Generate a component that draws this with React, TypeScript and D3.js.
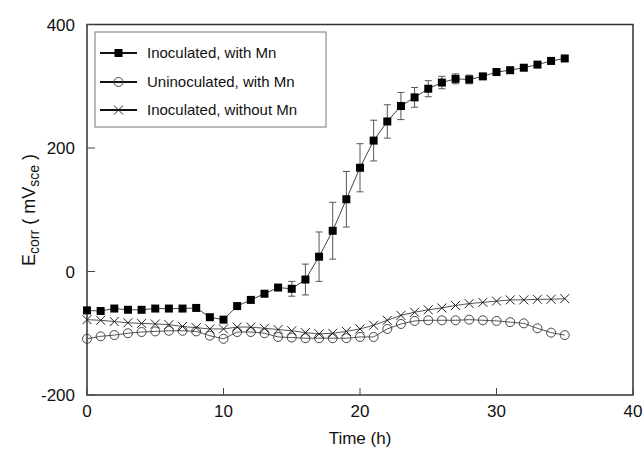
import React from "react";
import * as d3 from "d3";

const times = [0,1,2,3,4,5,6,7,8,9,10,11,12,13,14,15,16,17,18,19,20,21,22,23,24,25,26,27,28,29,30,31,32,33,34,35];
const inocMn = [-63,-64,-60,-62,-62,-60,-60,-60,-59,-74,-78,-56,-46,-36,-26,-28,-13,24,66,117,168,212,243,268,282,296,306,312,311,316,323,326,330,335,341,345];
const inocMnErr = [0,0,0,0,0,0,0,0,0,0,0,0,0,0,0,12,25,40,46,45,39,33,27,22,16,13,10,8,7,4,0,0,0,0,0,0];
const uninocMn = [-109,-105,-103,-100,-98,-97,-96,-96,-97,-104,-109,-98,-98,-100,-106,-107,-108,-108,-108,-108,-106,-106,-93,-85,-80,-79,-79,-79,-78,-79,-80,-82,-84,-92,-99,-103];
const inocNoMn = [-78,-79,-81,-83,-84,-85,-86,-89,-91,-93,-93,-90,-90,-92,-94,-96,-99,-101,-100,-97,-93,-87,-79,-71,-66,-62,-59,-55,-52,-50,-48,-46,-46,-45,-45,-44];
const xTicks = [0, 10, 20, 30, 40];
const yTicks = [-200, 0, 200, 400];
const legendLabels = ["Inoculated, with Mn", "Uninoculated, with Mn", "Inoculated, without Mn"];

const FONT = "'Liberation Sans', Arial, Helvetica, sans-serif";

export default function App() {
  const x = d3.scaleLinear().domain([0, 40]).range([87, 633]);
  const y = d3.scaleLinear().domain([-200, 400]).range([395, 24.5]);
  const line = (vals: number[]) =>
    d3.line<number>().x((_, i) => x(times[i])).y((v) => y(v))(vals) || "";

  const sq = 8;
  const square = (cx: number, cy: number, k: string) => (
    <rect key={k} x={cx - sq / 2} y={cy - sq / 2} width={sq} height={sq} fill="#000" />
  );
  const circle = (cx: number, cy: number, k: string) => (
    <circle key={k} cx={cx} cy={cy} r={4.5} fill="none" stroke="#333" strokeWidth={0.9} />
  );
  const cross = (cx: number, cy: number, k: string) => {
    const s = 4.5;
    return (
      <path key={k} d={`M${cx - s},${cy - s}L${cx + s},${cy + s}M${cx - s},${cy + s}L${cx + s},${cy - s}`} stroke="#222" strokeWidth={1} fill="none" />
    );
  };

  const markers = [square, circle, cross];
  const legendY = [53, 82, 110];

  return (
    <svg width={644} height={449} style={{ position: "absolute", left: 0, top: 0, background: "#fff" }}>
      {/* frame */}
      <rect x={x(0)} y={y(400)} width={x(40) - x(0)} height={y(-200) - y(400)} fill="none" stroke="#333" strokeWidth={1.5} />
      {/* ticks */}
      {xTicks.map((t) => (
        <g key={"xt" + t}>
          <line x1={x(t)} x2={x(t)} y1={y(-200)} y2={y(-200) - 7} stroke="#444" strokeWidth={1} />
          <text x={x(t)} y={417} textAnchor="middle" fontFamily={FONT} fontSize={17} fill="#111">{t}</text>
        </g>
      ))}
      {yTicks.map((t) => (
        <g key={"yt" + t}>
          <line x1={x(0)} x2={x(0) + 8} y1={y(t)} y2={y(t)} stroke="#444" strokeWidth={1} />
          <text x={75} y={y(t) + 6} textAnchor="end" fontFamily={FONT} fontSize={17} fill="#111">{t}</text>
        </g>
      ))}
      {/* axis titles */}
      <text x={360} y={444} textAnchor="middle" fontFamily={FONT} fontSize={17} fill="#111">Time (h)</text>
      <text transform="translate(35,210) rotate(-90)" textAnchor="middle" fontFamily={FONT} fontSize={18} fill="#111">
        E<tspan fontSize={14} dy={4}>corr</tspan><tspan dy={-4}> ( mV</tspan><tspan fontSize={14} dy={4}>sce</tspan><tspan dy={-4}> )</tspan>
      </text>

      {/* error bars */}
      {inocMn.map((v, i) =>
        inocMnErr[i] > 0 ? (
          <g key={"eb" + i} stroke="#555" strokeWidth={1}>
            <line x1={x(times[i])} x2={x(times[i])} y1={y(v - inocMnErr[i])} y2={y(v + inocMnErr[i])} />
            <line x1={x(times[i]) - 3.5} x2={x(times[i]) + 3.5} y1={y(v + inocMnErr[i])} y2={y(v + inocMnErr[i])} />
            <line x1={x(times[i]) - 3.5} x2={x(times[i]) + 3.5} y1={y(v - inocMnErr[i])} y2={y(v - inocMnErr[i])} />
          </g>
        ) : null
      )}

      {/* lines */}
      <path d={line(uninocMn)} fill="none" stroke="#555" strokeWidth={1} />
      <path d={line(inocNoMn)} fill="none" stroke="#555" strokeWidth={1} />
      <path d={line(inocMn)} fill="none" stroke="#444" strokeWidth={1} />

      {/* markers */}
      {uninocMn.map((v, i) => circle(x(times[i]), y(v), "c" + i))}
      {inocNoMn.map((v, i) => cross(x(times[i]), y(v), "x" + i))}
      {inocMn.map((v, i) => square(x(times[i]), y(v), "s" + i))}

      {/* legend */}
      <rect x={95} y={32} width={231} height={95} fill="#fff" stroke="#777" strokeWidth={1} />
      {legendLabels.map((lab, i) => (
        <g key={"lg" + i}>
          <line x1={100} x2={137} y1={legendY[i]} y2={legendY[i]} stroke="#111" strokeWidth={1.8} />
          {markers[i](118.5, legendY[i], "lm" + i)}
          <text x={147} y={legendY[i] + 5} fontFamily={FONT} fontSize={15} fill="#111">{lab}</text>
        </g>
      ))}
    </svg>
  );
}
